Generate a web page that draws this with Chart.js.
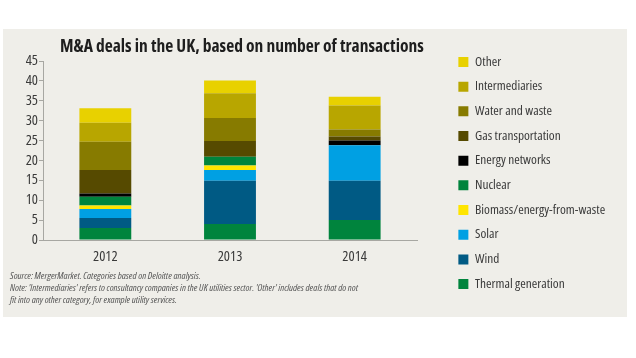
<!DOCTYPE html>
<html>
<head>
<meta charset="utf-8">
<script src="https://cdn.jsdelivr.net/npm/chart.js@4/dist/chart.umd.min.js"></script>
<style>
  html, body { margin: 0; padding: 0; background: #ffffff; }
  #c { display: block; }
</style>
</head>
<body>
<canvas id="c" width="636" height="358"></canvas>
<script>
// ---- data ----
const categories = ['2012', '2013', '2014'];
const thermalGeneration = [3.0, 4.0, 5.0];
const wind = [2.5, 10.9, 9.9];
const solar = [2.3, 2.7, 8.9];
const biomass = [0.9, 1.1, 0];
const nuclear = [2.2, 2.2, 0];
const energyNetworks = [0.8, 0, 1.2];
const gasTransportation = [5.9, 4.0, 1.0];
const waterAndWaste = [7.1, 5.8, 1.8];
const intermediaries = [4.8, 6.2, 6.0];
const other = [3.6, 3.2, 2.2];
const yTicks = [0, 5, 10, 15, 20, 25, 30, 35, 40, 45];

const titleText = 'M&A deals in the UK, based on number of transactions';
const noteLines = [
  'Source: MergerMarket. Categories based on Deloitte analysis.',
  "Note: 'Intermediaries' refers to consultancy companies in the UK utilities sector. 'Other' includes deals that do not",
  'fit into any other category, for example utility services.'
];

// ---- styling ----
const FAMILY = '"Open Sans", "DejaVu Sans", sans-serif';
const LEGEND_SIZE = 13.3;
const series = [
  { label: 'Thermal generation', data: thermalGeneration, color: '#00843d' },
  { label: 'Wind', data: wind, color: '#005a84' },
  { label: 'Solar', data: solar, color: '#00a0e3' },
  { label: 'Biomass/energy-from-waste', data: biomass, color: '#ffe500' },
  { label: 'Nuclear', data: nuclear, color: '#00843d' },
  { label: 'Energy networks', data: energyNetworks, color: '#000000' },
  { label: 'Gas transportation', data: gasTransportation, color: '#564a00' },
  { label: 'Water and waste', data: waterAndWaste, color: '#877b00' },
  { label: 'Intermediaries', data: intermediaries, color: '#b8a600' },
  { label: 'Other', data: other, color: '#e8d100' }
];

// measure legend width so the plot area ends where the reference's does
const mctx = document.createElement('canvas').getContext('2d');
mctx.font = 'condensed ' + LEGEND_SIZE + 'px ' + FAMILY;
const longest = Math.max(...series.map(s => mctx.measureText(s.label).width));
const LEGEND_PAD = 11.37;
const legendW = LEGEND_PAD + 10 + LEGEND_SIZE / 2 + longest + 10;
const PLOT_RIGHT = 417;
const padRight = Math.max(0, 636 - PLOT_RIGHT - legendW);

const panelPlugin = {
  id: 'panel',
  beforeDraw(chart) {
    const ctx = chart.ctx;
    ctx.save();
    ctx.fillStyle = '#efeee9';
    ctx.fillRect(3, 29, 624, 288);
    ctx.restore();
  },
  afterLayout(chart) {
    if (chart.titleBlock) {
      const w = chart.titleBlock.width;
      chart.titleBlock.left = 60;
      chart.titleBlock.right = 60 + w;
    }
    if (chart.legend) {
      const w = chart.legend.width;
      chart.legend.left = 447;
      chart.legend.right = 447 + w;
    }
  }
};

new Chart(document.getElementById('c'), {
  type: 'bar',
  data: {
    labels: categories,
    datasets: series.map(s => ({
      label: s.label,
      data: s.data,
      backgroundColor: s.color,
      borderWidth: 0,
      barPercentage: 0.416,
      categoryPercentage: 1.0
    }))
  },
  options: {
    responsive: false,
    animation: false,
    devicePixelRatio: 1,
    layout: { padding: { top: 30, left: 10, right: padRight, bottom: 52 } },
    scales: {
      x: {
        stacked: true,
        grid: { display: false, drawTicks: false },
        border: { display: true, color: '#a7a7a2', width: 1 },
        ticks: { color: '#3a3a3a', font: { family: FAMILY, size: 14.5, weight: 'condensed', lineHeight: 1.2 }, padding: 8.3 }
      },
      y: {
        stacked: true,
        min: 0,
        max: 45,
        afterFit(scale) { scale.width = 33; },
        afterBuildTicks(scale) { scale.ticks = yTicks.map(v => ({ value: v })); },
        grid: { display: true, drawOnChartArea: false, drawTicks: true, tickLength: 4, color: '#a7a7a2' },
        border: { display: true, color: '#a7a7a2', width: 1 },
        ticks: { autoSkip: false, color: '#3a3a3a', font: { family: FAMILY, size: 14.5, weight: 'condensed' }, padding: 1 }
      }
    },
    plugins: {
      tooltip: { enabled: false },
      title: {
        display: true,
        text: titleText,
        align: 'start',
        color: '#1e1e1e',
        font: { family: FAMILY, size: 17.5, weight: 'bold condensed', lineHeight: '19.2px' },
        padding: { top: 7, bottom: 4.8 }
      },
      subtitle: {
        display: true,
        position: 'bottom',
        text: noteLines,
        align: 'start',
        color: '#555555',
        font: { family: FAMILY, size: 9.8, style: 'italic', weight: 'condensed', lineHeight: '12px' },
        padding: { top: -4, bottom: 0 }
      },
      legend: {
        display: true,
        position: 'right',
        align: 'start',
        reverse: true,
        maxWidth: 300,
        title: { display: true, text: ' ', font: { size: 12, lineHeight: '14px' }, padding: 0 },
        labels: {
          boxWidth: 10,
          boxHeight: 10,
          padding: LEGEND_PAD,
          color: '#3a3a3a',
          font: { family: FAMILY, size: LEGEND_SIZE, weight: 'condensed', lineHeight: '14.4px' }
        }
      }
    }
  },
  plugins: [panelPlugin]
});
</script>
</body>
</html>
